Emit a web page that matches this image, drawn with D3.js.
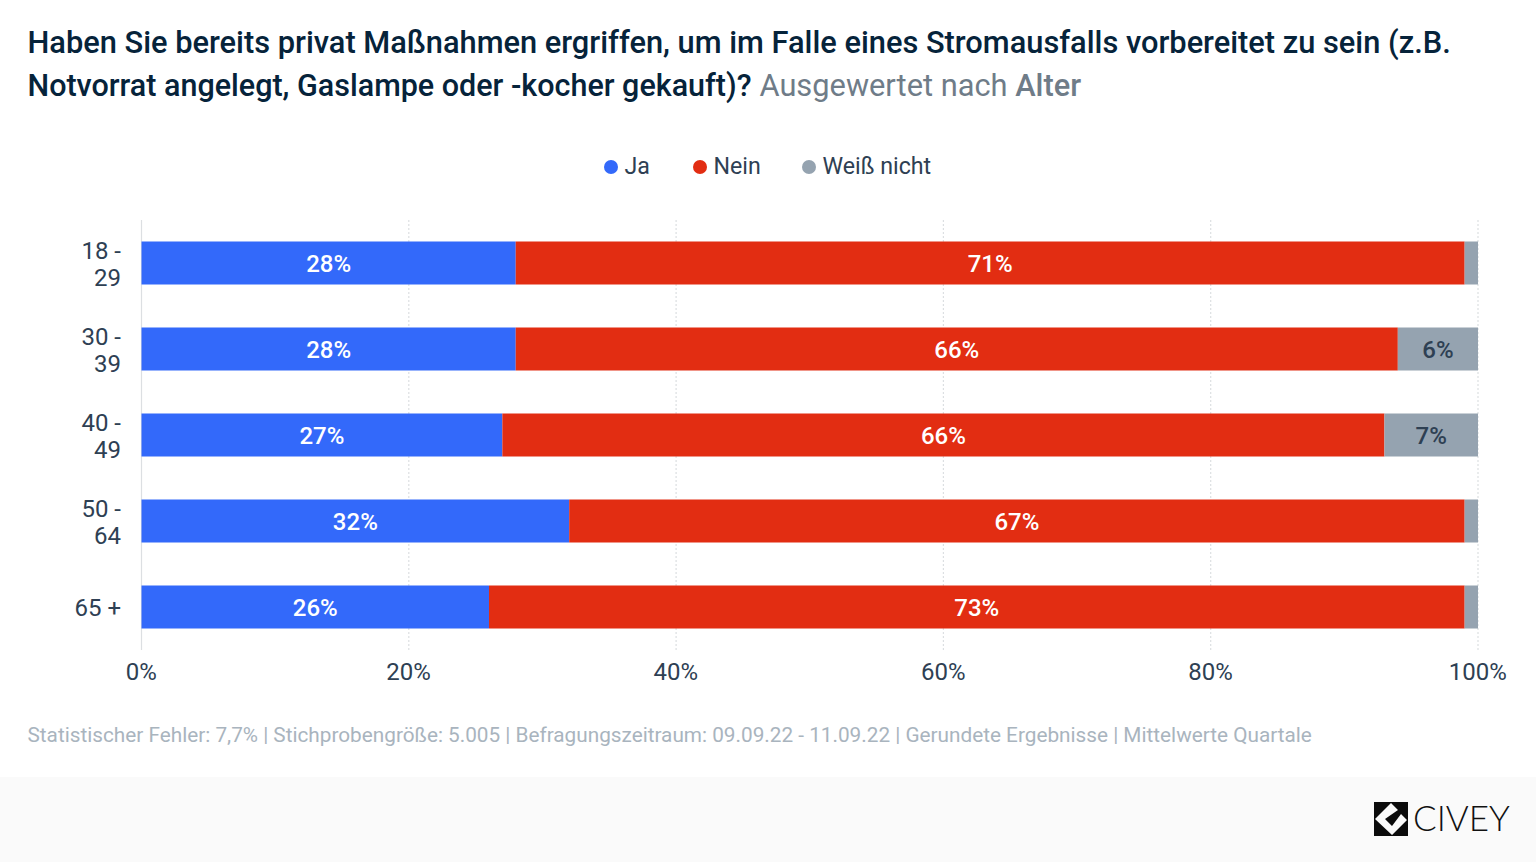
<!DOCTYPE html>
<html>
<head>
<meta charset="utf-8">
<script src="https://cdn.jsdelivr.net/npm/d3@7"></script>
<style>
html,body{margin:0;padding:0;background:#fff;}
svg{display:block;font-family:Roboto,sans-serif;}
</style>
</head>
<body>
<div id="chart"></div>
<script>
var categories=["18 - 29","30 - 39","40 - 49","50 - 64","65 +"];
var seriesNames=["Ja","Nein","Weiß nicht"];
var ja=[28,28,27,32,26];
var nein=[71,66,66,67,73];
var weissNicht=[1,6,7,1,1];
var xTicks=[0,20,40,60,80,100];
var colors=["#3369fa","#e22d12","#95a3b0"];

var titleLines=["Haben Sie bereits privat Maßnahmen ergriffen, um im Falle eines Stromausfalls vorbereitet zu sein (z.B.","Notvorrat angelegt, Gaslampe oder -kocher gekauft)?"];
var footnote="Statistischer Fehler: 7,7% | Stichprobengröße: 5.005 | Befragungszeitraum: 09.09.22 - 11.09.22 | Gerundete Ergebnisse | Mittelwerte Quartale";

var width=1536,height=862;
var margin={top:220,right:58,bottom:212,left:141.5};
var textColor="#2e4053";

var svg=d3.select("#chart").append("svg")
	.attr("width",width)
	.attr("height",height);

//title
var title=svg.append("text").attr("fill","#06233a")
	.style("font-size","30.8px").style("font-weight",500);
title.append("tspan").attr("x",27.5).attr("y",52.5).text(titleLines[0]);
title.append("tspan").attr("x",27.5).attr("y",95.5).style("font-size","30.5px").text(titleLines[1]);
title.append("tspan").attr("dx",8).attr("fill","#6f7c88").style("font-weight",400).text("Ausgewertet nach ");
title.append("tspan").attr("fill","#6f7c88").style("font-weight",500).text("Alter");

//scales
var x=d3.scaleLinear().domain([0,100]).range([margin.left,width-margin.right]);
var y=d3.scaleBand().domain(categories).range([margin.top,height-margin.bottom]).paddingInner(0.5).paddingOuter(0.25);

//grid
svg.append("g").selectAll("line")
	.data(xTicks)
	.enter().append("line")
	.attr("x1",function(d){ return x(d); })
	.attr("x2",function(d){ return x(d); })
	.attr("y1",margin.top)
	.attr("y2",height-margin.bottom)
	.attr("stroke","#dcdfe2")
	.attr("stroke-width",1.2)
	.attr("stroke-dasharray",function(d){ return d==0?null:"2,2"; });

//bars
var rows=categories.map(function(c,i){ return {cat:c,Ja:ja[i],Nein:nein[i],"Weiß nicht":weissNicht[i]}; });
var stacked=d3.stack().keys(seriesNames)(rows);

var layer=svg.append("g").selectAll("g")
	.data(stacked)
	.enter().append("g")
	.attr("fill",function(d,i){ return colors[i]; });

layer.selectAll("rect")
	.data(function(d){ return d; })
	.enter().append("rect")
	.attr("x",function(d){ return x(d[0]); })
	.attr("y",function(d){ return y(d.data.cat); })
	.attr("width",function(d){ return x(d[1])-x(d[0]); })
	.attr("height",y.bandwidth());

//labels, 1% segments stay empty, dark text on the grey segment
layer.selectAll("text")
	.data(function(d){ return d.filter(function(e){ return e[1]-e[0]>1; }); })
	.enter().append("text")
	.attr("x",function(d){ return (x(d[0])+x(d[1]))/2; })
	.attr("y",function(d){ return y(d.data.cat)+y.bandwidth()/2+9; })
	.attr("text-anchor","middle")
	.attr("fill",function(d){ return d[1]==100?textColor:"#fff"; })
	.style("font-size","24px")
	.style("font-weight",500)
	.text(function(d){ return (d[1]-d[0])+"%"; });

//category labels
var catLabels=svg.append("g").selectAll("text")
	.data(categories)
	.enter().append("text")
	.attr("fill",textColor)
	.attr("text-anchor","end")
	.style("font-size","24px");

catLabels.each(function(d){
	var parts=d.split(" - "),
		cy=y(d)+y.bandwidth()/2,
		el=d3.select(this);
	if(parts.length==2){
		el.append("tspan").attr("x",121).attr("y",cy-4.5).text(parts[0]+" -");
		el.append("tspan").attr("x",121).attr("y",cy+22.5).text(parts[1]);
	}else{
		el.append("tspan").attr("x",121).attr("y",cy+9).text(d);
	}
});

//x axis
var xAxis=d3.axisBottom(x).tickValues(xTicks).tickSize(0).tickPadding(0).tickFormat(function(d){ return d+"%"; });
var gx=svg.append("g")
	.attr("transform","translate(-0.7,"+(height-margin.bottom)+")")
	.call(xAxis);
gx.select(".domain").remove();
gx.selectAll("text")
	.attr("y",30)
	.attr("dy",0)
	.attr("fill",textColor)
	.style("font-size","24px")
	.style("font-family","Roboto,sans-serif");

//legend
var legendX=[611,700,809];
var legend=svg.append("g").selectAll("g")
	.data(seriesNames)
	.enter().append("g")
	.attr("transform",function(d,i){ return "translate("+legendX[i]+",167)"; });
legend.append("circle")
	.attr("r",7)
	.attr("fill",function(d,i){ return colors[i]; });
legend.append("text")
	.attr("x",13.5)
	.attr("y",7)
	.attr("fill",textColor)
	.style("font-size","23.2px")
	.text(function(d){ return d; });

//footnote
svg.append("text")
	.attr("x",27.5)
	.attr("y",742)
	.attr("fill","#a9b4be")
	.style("font-size","20.75px")
	.text(footnote);

//footer with logo
svg.append("rect").attr("x",0).attr("y",777).attr("width",width).attr("height",85).attr("fill","#fafafa");
var logo=svg.append("g").attr("transform","translate(1374,802)");
logo.append("rect").attr("width",34).attr("height",34).attr("fill","#0b0b0b");
logo.append("path")
	.attr("d","M1 17 L17 1 L24 8 L11 17 L18 24 L27 12 L33 18 L18 33 Z")
	.attr("fill","#fafafa");
svg.append("text")
	.attr("x",1413)
	.attr("y",831)
	.attr("fill","#111")
	.style("font-size","35px")
	.style("font-weight",300)
	.style("font-family","Lato,Roboto,sans-serif")
	.text("CIVEY");
</script>
</body>
</html>
